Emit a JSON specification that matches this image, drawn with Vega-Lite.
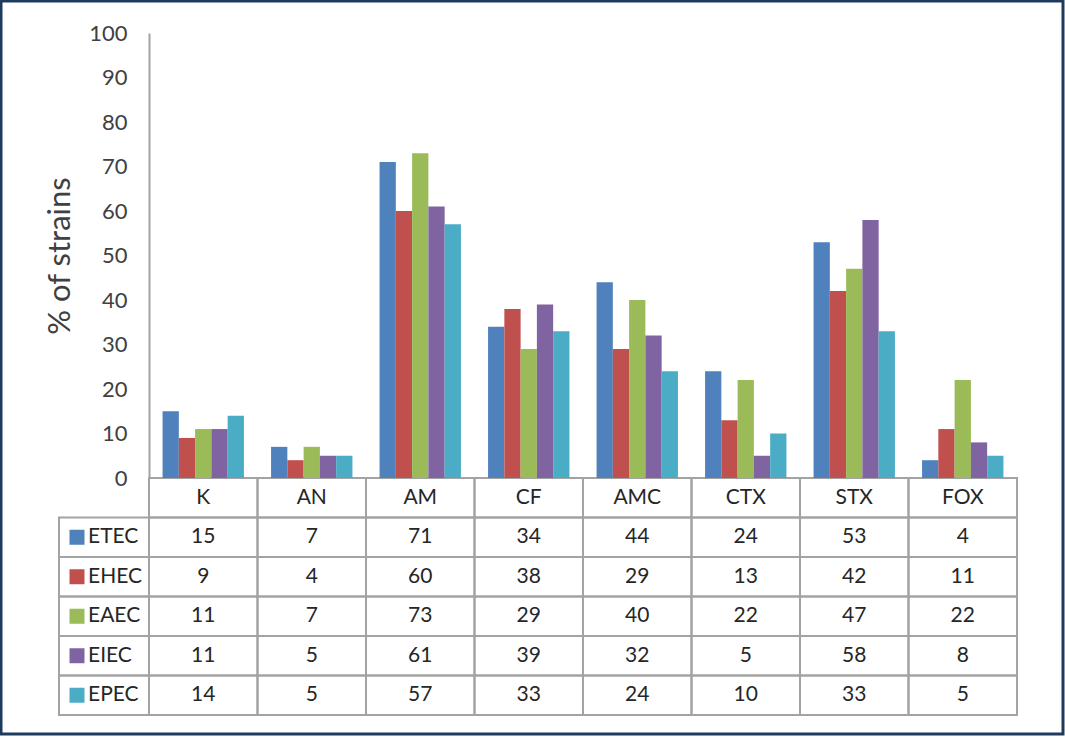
{
  "$schema": "https://vega.github.io/schema/vega-lite/v6.json",
  "autosize": {"type": "none"},
  "padding": {"left": 1, "top": 1, "right": 2, "bottom": 3},
  "width": 1062,
  "height": 733,
  "background": "white",
  "config": {
    "view": {"stroke": "#1d3b5e", "strokeWidth": 3},
    "font": "Lato",
    "text": {"font": "Lato"}
  },
  "datasets": {
    "vals": [
      {"cat": "K", "series": "ETEC", "value": 15},
      {"cat": "AN", "series": "ETEC", "value": 7},
      {"cat": "AM", "series": "ETEC", "value": 71},
      {"cat": "CF", "series": "ETEC", "value": 34},
      {"cat": "AMC", "series": "ETEC", "value": 44},
      {"cat": "CTX", "series": "ETEC", "value": 24},
      {"cat": "STX", "series": "ETEC", "value": 53},
      {"cat": "FOX", "series": "ETEC", "value": 4},
      {"cat": "K", "series": "EHEC", "value": 9},
      {"cat": "AN", "series": "EHEC", "value": 4},
      {"cat": "AM", "series": "EHEC", "value": 60},
      {"cat": "CF", "series": "EHEC", "value": 38},
      {"cat": "AMC", "series": "EHEC", "value": 29},
      {"cat": "CTX", "series": "EHEC", "value": 13},
      {"cat": "STX", "series": "EHEC", "value": 42},
      {"cat": "FOX", "series": "EHEC", "value": 11},
      {"cat": "K", "series": "EAEC", "value": 11},
      {"cat": "AN", "series": "EAEC", "value": 7},
      {"cat": "AM", "series": "EAEC", "value": 73},
      {"cat": "CF", "series": "EAEC", "value": 29},
      {"cat": "AMC", "series": "EAEC", "value": 40},
      {"cat": "CTX", "series": "EAEC", "value": 22},
      {"cat": "STX", "series": "EAEC", "value": 47},
      {"cat": "FOX", "series": "EAEC", "value": 22},
      {"cat": "K", "series": "EIEC", "value": 11},
      {"cat": "AN", "series": "EIEC", "value": 5},
      {"cat": "AM", "series": "EIEC", "value": 61},
      {"cat": "CF", "series": "EIEC", "value": 39},
      {"cat": "AMC", "series": "EIEC", "value": 32},
      {"cat": "CTX", "series": "EIEC", "value": 5},
      {"cat": "STX", "series": "EIEC", "value": 58},
      {"cat": "FOX", "series": "EIEC", "value": 8},
      {"cat": "K", "series": "EPEC", "value": 14},
      {"cat": "AN", "series": "EPEC", "value": 5},
      {"cat": "AM", "series": "EPEC", "value": 57},
      {"cat": "CF", "series": "EPEC", "value": 33},
      {"cat": "AMC", "series": "EPEC", "value": 24},
      {"cat": "CTX", "series": "EPEC", "value": 10},
      {"cat": "STX", "series": "EPEC", "value": 33},
      {"cat": "FOX", "series": "EPEC", "value": 5}
    ]
  },
  "data": {"name": "vals"},
  "resolve": {"scale": {"x": "independent", "y": "independent"}},
  "layer": [
    {
      "mark": {"type": "rect", "fillOpacity": 0, "stroke": "#a3a3a3", "strokeWidth": 2},
      "encoding": {
        "x": {"field": "cat", "type": "nominal", "axis": null, "scale": {"domain": ["K", "AN", "AM", "CF", "AMC", "CTX", "STX", "FOX"], "range": [148, 1016], "paddingInner": 0, "paddingOuter": 0}},
        "y": {"field": "series", "type": "nominal", "axis": null, "scale": {"domain": ["hdr", "ETEC", "EHEC", "EAEC", "EIEC", "EPEC"], "range": [477, 714], "paddingInner": 0, "paddingOuter": 0}}
      }
    },
    {
      "transform": [{"filter": "datum.series === 'ETEC'"}],
      "mark": {"type": "rect", "fillOpacity": 0, "stroke": "#a3a3a3", "strokeWidth": 2},
      "encoding": {
        "x": {"field": "cat", "type": "nominal", "axis": null, "scale": {"domain": ["K", "AN", "AM", "CF", "AMC", "CTX", "STX", "FOX"], "range": [148, 1016], "paddingInner": 0, "paddingOuter": 0}},
        "y": {"datum": "hdr", "type": "nominal", "axis": null, "scale": {"domain": ["hdr", "ETEC", "EHEC", "EAEC", "EIEC", "EPEC"], "range": [477, 714], "paddingInner": 0, "paddingOuter": 0}}
      }
    },
    {
      "transform": [{"filter": "datum.cat === 'K'"}],
      "mark": {"type": "rect", "fillOpacity": 0, "stroke": "#a3a3a3", "strokeWidth": 2},
      "encoding": {
        "x": {"datum": "legend", "type": "nominal", "axis": null, "scale": {"domain": ["legend"], "range": [58, 148], "paddingInner": 0, "paddingOuter": 0}},
        "y": {"field": "series", "type": "nominal", "axis": null, "scale": {"domain": ["hdr", "ETEC", "EHEC", "EAEC", "EIEC", "EPEC"], "range": [477, 714], "paddingInner": 0, "paddingOuter": 0}}
      }
    },
    {
      "mark": {"type": "bar"},
      "encoding": {
        "x": {"field": "cat", "type": "nominal", "axis": null, "scale": {"domain": ["K", "AN", "AM", "CF", "AMC", "CTX", "STX", "FOX"], "range": [148, 1016], "paddingInner": 0.25, "paddingOuter": 0.125}},
        "xOffset": {"field": "series", "type": "nominal", "scale": {"domain": ["ETEC", "EHEC", "EAEC", "EIEC", "EPEC"], "paddingInner": 0, "paddingOuter": 0}},
        "y": {
          "field": "value", "type": "quantitative",
          "scale": {"domain": [0, 100], "range": [477, 32], "nice": false},
          "axis": {
            "orient": "left", "offset": -148, "values": [0, 10, 20, 30, 40, 50, 60, 70, 80, 90, 100],
            "ticks": false, "grid": false, "domainColor": "#a3a3a3", "domainWidth": 2,
            "labelFontSize": 22, "labelColor": "#404040", "labelPadding": 22, "labelFont": "Lato",
            "title": "% of strains", "titleFontSize": 31, "titleFontWeight": "normal", "titleColor": "#404040", "titleFont": "Lato", "titlePadding": 12
          }
        },
        "color": {"field": "series", "type": "nominal", "legend": null, "scale": {"domain": ["ETEC", "EHEC", "EAEC", "EIEC", "EPEC"], "range": ["#4f81bd", "#c0504d", "#9bbb59", "#8064a2", "#4bacc6"]}}
      }
    },
    {
      "mark": {"type": "text", "fontSize": 21, "color": "#262626", "baseline": "middle", "align": "center"},
      "encoding": {
        "x": {"field": "cat", "type": "nominal", "axis": null, "scale": {"domain": ["K", "AN", "AM", "CF", "AMC", "CTX", "STX", "FOX"], "range": [148, 1016], "paddingInner": 0, "paddingOuter": 0}},
        "y": {"field": "series", "type": "nominal", "axis": null, "scale": {"domain": ["hdr", "ETEC", "EHEC", "EAEC", "EIEC", "EPEC"], "range": [477, 714], "paddingInner": 0, "paddingOuter": 0}},
        "text": {"field": "value", "type": "quantitative"}
      }
    },
    {
      "transform": [{"filter": "datum.series === 'ETEC'"}],
      "mark": {"type": "text", "fontSize": 21, "color": "#262626", "baseline": "middle", "align": "center"},
      "encoding": {
        "x": {"field": "cat", "type": "nominal", "axis": null, "scale": {"domain": ["K", "AN", "AM", "CF", "AMC", "CTX", "STX", "FOX"], "range": [148, 1016], "paddingInner": 0, "paddingOuter": 0}},
        "y": {"datum": "hdr", "type": "nominal", "axis": null, "scale": {"domain": ["hdr", "ETEC", "EHEC", "EAEC", "EIEC", "EPEC"], "range": [477, 714], "paddingInner": 0, "paddingOuter": 0}},
        "text": {"field": "cat", "type": "nominal"}
      }
    },
    {
      "transform": [{"filter": "datum.cat === 'K'"}],
      "mark": {"type": "point", "shape": "square", "filled": true, "opacity": 1, "size": 225, "xOffset": -27},
      "encoding": {
        "x": {"datum": "legend", "type": "nominal", "axis": null, "scale": {"domain": ["legend"], "range": [58, 148], "paddingInner": 0, "paddingOuter": 0}},
        "y": {"field": "series", "type": "nominal", "axis": null, "scale": {"domain": ["hdr", "ETEC", "EHEC", "EAEC", "EIEC", "EPEC"], "range": [477, 714], "paddingInner": 0, "paddingOuter": 0}},
        "color": {"field": "series", "type": "nominal", "legend": null, "scale": {"domain": ["ETEC", "EHEC", "EAEC", "EIEC", "EPEC"], "range": ["#4f81bd", "#c0504d", "#9bbb59", "#8064a2", "#4bacc6"]}}
      }
    },
    {
      "transform": [{"filter": "datum.cat === 'K'"}],
      "mark": {"type": "text", "fontSize": 21, "color": "#262626", "baseline": "middle", "align": "left", "dx": -16},
      "encoding": {
        "x": {"datum": "legend", "type": "nominal", "axis": null, "scale": {"domain": ["legend"], "range": [58, 148], "paddingInner": 0, "paddingOuter": 0}},
        "y": {"field": "series", "type": "nominal", "axis": null, "scale": {"domain": ["hdr", "ETEC", "EHEC", "EAEC", "EIEC", "EPEC"], "range": [477, 714], "paddingInner": 0, "paddingOuter": 0}},
        "text": {"field": "series", "type": "nominal"}
      }
    }
  ]
}
